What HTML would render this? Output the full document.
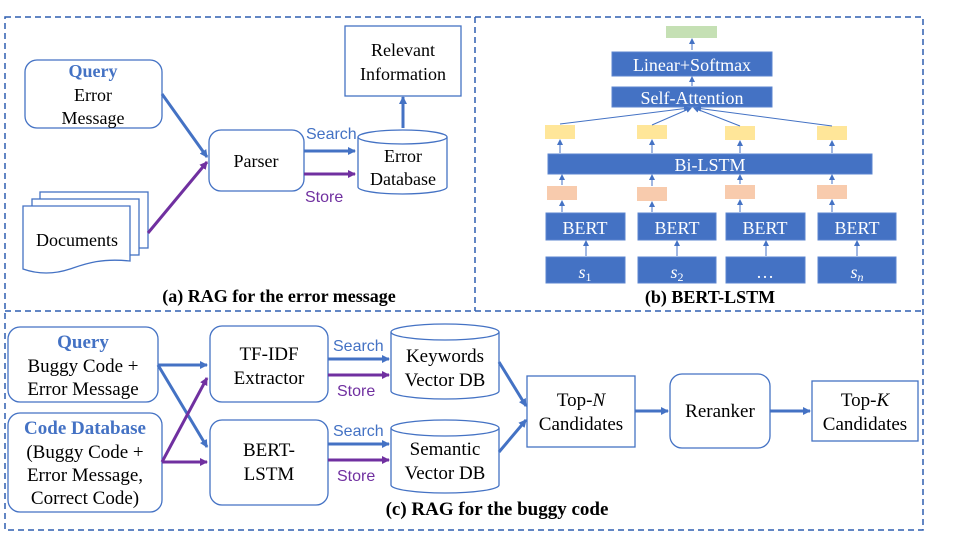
<!DOCTYPE html>
<html><head><meta charset="utf-8"><style>
html,body{margin:0;padding:0;background:#fff;}
svg{display:block;font-family:"Liberation Serif",serif;}
.c{font-family:"Liberation Sans",sans-serif;}
</style></head><body>
<svg width="959" height="540" viewBox="0 0 959 540" xmlns="http://www.w3.org/2000/svg">
<defs>
<marker id="ab" markerWidth="8" markerHeight="8" refX="7" refY="4" orient="auto" markerUnits="userSpaceOnUse"><path d="M0,0 L8,4 L0,8z" fill="#4472c4"/></marker>
<marker id="ap" markerWidth="8" markerHeight="8" refX="7" refY="4" orient="auto" markerUnits="userSpaceOnUse"><path d="M0,0 L8,4 L0,8z" fill="#7030a0"/></marker>
<marker id="as" markerWidth="6" markerHeight="6" refX="5" refY="3" orient="auto" markerUnits="userSpaceOnUse"><path d="M0,0 L6,3 L0,6z" fill="#4472c4"/></marker>
</defs>
<g fill="none" stroke="#2f5fb0" stroke-width="1.5" stroke-dasharray="6,4">
<rect x="5" y="17" width="918" height="513"/>
<line x1="475" y1="17" x2="475" y2="311"/>
<line x1="5" y1="311" x2="923" y2="311"/>
</g>
<!-- (a) -->
<g fill="#fff" stroke="#4472c4" stroke-width="1.3">
<rect x="25" y="60" width="137" height="68" rx="12"/>
<rect x="345" y="26" width="116" height="70"/>
<rect x="209" y="130" width="95" height="61" rx="12"/>
<path d="M358,137 v50 a44.5,7 0 0 0 89,0 v-50"/>
<ellipse cx="402.5" cy="137" rx="44.5" ry="7"/>
<rect x="40" y="192" width="108" height="56"/>
<rect x="32" y="199" width="107" height="56"/>
<path d="M23,206 h107 v55 c-30,-3 -45,3 -60,8 c-15,5 -30,6 -47,0 z"/>
</g>
<g text-anchor="middle" font-size="18" fill="#000">
<text x="93" y="77" fill="#4472c4" font-weight="bold">Query</text>
<text x="93" y="101">Error</text>
<text x="93" y="124">Message</text>
<text x="403" y="56">Relevant</text>
<text x="403" y="80">Information</text>
<text x="256" y="167">Parser</text>
<text x="403" y="162">Error</text>
<text x="403" y="185">Database</text>
<text x="77" y="246">Documents</text>
<text x="279" y="302" font-weight="bold">(a) RAG for the error message</text>
</g>
<g stroke-width="3" fill="none">
<line x1="162" y1="94" x2="207" y2="157" stroke="#4472c4" marker-end="url(#ab)"/>
<line x1="148" y1="233" x2="207" y2="162" stroke="#7030a0" marker-end="url(#ap)"/>
<line x1="304" y1="151" x2="355" y2="151" stroke="#4472c4" marker-end="url(#ab)"/>
<line x1="304" y1="174" x2="355" y2="174" stroke="#7030a0" marker-end="url(#ap)"/>
<line x1="403" y1="128" x2="403" y2="97" stroke="#4472c4" marker-end="url(#ab)"/>
</g>
<text class="c" x="306" y="139" font-size="16" fill="#4472c4">Search</text>
<text class="c" x="305" y="202" font-size="16" fill="#7030a0">Store</text>
<!-- (b) -->
<rect x="666" y="26" width="51" height="12" fill="#c5e0b4"/>
<g fill="#4472c4" stroke="#5b84cf" stroke-width="1">
<rect x="612" y="52" width="160" height="24"/>
<rect x="612" y="87" width="160" height="20"/>
<rect x="548" y="154" width="324" height="20"/>
<rect x="546" y="213" width="79" height="27"/><rect x="638" y="213" width="78" height="27"/><rect x="726" y="213" width="79" height="27"/><rect x="818" y="213" width="78" height="27"/>
<rect x="546" y="257" width="79" height="26"/><rect x="638" y="257" width="78" height="26"/><rect x="726" y="257" width="79" height="26"/><rect x="818" y="257" width="78" height="26"/>
</g>
<g fill="#ffe699"><rect x="545" y="125" width="30" height="14"/><rect x="637" y="125" width="30" height="14"/><rect x="725" y="126" width="30" height="14"/><rect x="817" y="126" width="30" height="14"/></g>
<g fill="#f8cbad"><rect x="547" y="186" width="30" height="14"/><rect x="637" y="187" width="30" height="14"/><rect x="725" y="185" width="30" height="14"/><rect x="817" y="185" width="30" height="14"/></g>
<g stroke="#4472c4" stroke-width="1" marker-end="url(#as)">
<line x1="692" y1="50" x2="692" y2="39"/>
<line x1="692" y1="86" x2="692" y2="77"/>
<line x1="560" y1="124" x2="689" y2="108"/>
<line x1="652" y1="125" x2="691" y2="108"/>
<line x1="740" y1="126" x2="694" y2="108"/>
<line x1="832" y1="126" x2="696" y2="108"/>
<line x1="560" y1="153" x2="560" y2="140"/><line x1="652" y1="153" x2="652" y2="140"/><line x1="740" y1="153" x2="740" y2="141"/><line x1="832" y1="153" x2="832" y2="141"/>
<line x1="562" y1="185" x2="562" y2="175"/><line x1="652" y1="186" x2="652" y2="175"/><line x1="740" y1="184" x2="740" y2="175"/><line x1="832" y1="184" x2="832" y2="175"/>
<line x1="562" y1="212" x2="562" y2="201"/><line x1="652" y1="212" x2="652" y2="202"/><line x1="740" y1="212" x2="740" y2="200"/><line x1="832" y1="212" x2="832" y2="200"/>
<line x1="586" y1="256" x2="586" y2="241"/><line x1="677" y1="256" x2="677" y2="241"/><line x1="766" y1="256" x2="766" y2="241"/><line x1="857" y1="256" x2="857" y2="241"/>
</g>
<g fill="#fff" text-anchor="middle" font-size="18">
<text x="692" y="71">Linear+Softmax</text>
<text x="692" y="104">Self-Attention</text>
<text x="710" y="171">Bi-LSTM</text>
<text x="585" y="234">BERT</text><text x="677" y="234">BERT</text><text x="765" y="234">BERT</text><text x="857" y="234">BERT</text>
<text x="585" y="278" font-style="italic">s<tspan font-size="12" font-style="normal" dy="3">1</tspan></text>
<text x="677" y="278" font-style="italic">s<tspan font-size="12" font-style="normal" dy="3">2</tspan></text>
<text x="765" y="278">…</text>
<text x="857" y="278" font-style="italic">s<tspan font-size="12" dy="3">n</tspan></text>
</g>
<text x="710" y="303" text-anchor="middle" font-size="18" font-weight="bold">(b) BERT-LSTM</text>
<!-- (c) -->
<g fill="#fff" stroke="#4472c4" stroke-width="1.3">
<rect x="8" y="327" width="150" height="75" rx="12"/>
<rect x="8" y="413" width="154" height="99" rx="12"/>
<rect x="210" y="326" width="118" height="76" rx="12"/>
<rect x="210" y="420" width="118" height="85" rx="12"/>
<path d="M391,332 v59 a54,8 0 0 0 108,0 v-59"/><ellipse cx="445" cy="332" rx="54" ry="8"/>
<path d="M391,428 v57 a54,8 0 0 0 108,0 v-57"/><ellipse cx="445" cy="428" rx="54" ry="8"/>
<rect x="527" y="376" width="108" height="71"/>
<rect x="670" y="374" width="100" height="74" rx="12"/>
<rect x="812" y="381" width="106" height="60"/>
</g>
<g text-anchor="middle" font-size="19" fill="#000">
<text x="83" y="348" fill="#4472c4" font-weight="bold">Query</text>
<text x="83" y="372">Buggy Code +</text>
<text x="83" y="395">Error Message</text>
<text x="85" y="434" fill="#4472c4" font-weight="bold">Code Database</text>
<text x="85" y="458">(Buggy Code +</text>
<text x="85" y="481">Error Message,</text>
<text x="85" y="504">Correct Code)</text>
<text x="269" y="360">TF-IDF</text>
<text x="269" y="384">Extractor</text>
<text x="269" y="456">BERT-</text>
<text x="269" y="480">LSTM</text>
<text x="445" y="362">Keywords</text>
<text x="445" y="386">Vector DB</text>
<text x="445" y="455">Semantic</text>
<text x="445" y="479">Vector DB</text>
<text x="581" y="406">Top-<tspan font-style="italic">N</tspan></text>
<text x="581" y="430">Candidates</text>
<text x="720" y="417">Reranker</text>
<text x="865" y="406">Top-<tspan font-style="italic">K</tspan></text>
<text x="865" y="430">Candidates</text>
<text x="497" y="515" font-weight="bold">(c) RAG for the buggy code</text>
</g>
<g stroke-width="3" fill="none">
<line x1="158" y1="365" x2="207" y2="365" stroke="#4472c4" marker-end="url(#ab)"/>
<line x1="158" y1="365" x2="207" y2="447" stroke="#4472c4" marker-end="url(#ab)"/>
<line x1="162" y1="462" x2="207" y2="462" stroke="#7030a0" marker-end="url(#ap)"/>
<line x1="162" y1="462" x2="207" y2="378" stroke="#7030a0" marker-end="url(#ap)"/>
<line x1="328" y1="359" x2="389" y2="359" stroke="#4472c4" marker-end="url(#ab)"/>
<line x1="328" y1="375" x2="389" y2="375" stroke="#7030a0" marker-end="url(#ap)"/>
<line x1="328" y1="444" x2="389" y2="444" stroke="#4472c4" marker-end="url(#ab)"/>
<line x1="328" y1="460" x2="389" y2="460" stroke="#7030a0" marker-end="url(#ap)"/>
<line x1="499" y1="362" x2="526" y2="406" stroke="#4472c4" marker-end="url(#ab)"/>
<line x1="499" y1="452" x2="526" y2="420" stroke="#4472c4" marker-end="url(#ab)"/>
<line x1="635" y1="411" x2="668" y2="411" stroke="#4472c4" marker-end="url(#ab)"/>
<line x1="770" y1="411" x2="810" y2="411" stroke="#4472c4" marker-end="url(#ab)"/>
</g>
<g class="c" font-size="16">
<text x="333" y="351" fill="#4472c4">Search</text>
<text x="337" y="396" fill="#7030a0">Store</text>
<text x="333" y="436" fill="#4472c4">Search</text>
<text x="337" y="481" fill="#7030a0">Store</text>
</g>
</svg>
</body></html>
